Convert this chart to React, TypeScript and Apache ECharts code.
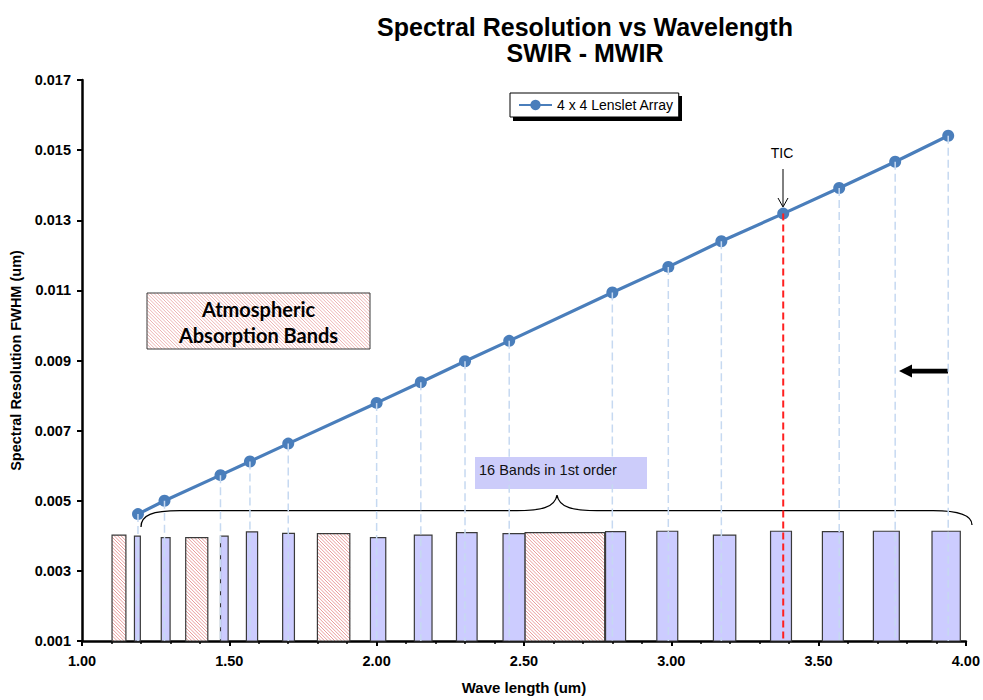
import React, { useEffect, useRef } from "react";
import * as echarts from "echarts";

// ---- data ----
const wavelengths = [1.19, 1.28, 1.47, 1.57, 1.70, 2.00, 2.15, 2.30, 2.45, 2.80, 2.99, 3.17, 3.38, 3.57, 3.76, 3.94];
const fwhm = [0.00462, 0.00500, 0.00573, 0.00612, 0.00663, 0.00779, 0.00838, 0.00898, 0.00956, 0.01094, 0.01167, 0.01240, 0.01319, 0.01392, 0.01467, 0.01541];
const ticWavelength = 3.38;

const bandStart = [1.178, 1.269, 1.470, 1.558, 1.681, 1.979, 2.128, 2.271, 2.429, 2.777, 2.951, 3.143, 3.337, 3.513, 3.686, 3.885];
const bandEnd = [1.198, 1.299, 1.496, 1.596, 1.721, 2.031, 2.188, 2.341, 2.504, 2.845, 3.022, 3.219, 3.408, 3.584, 3.774, 3.981];
const bandTop = [0.00399, 0.00395, 0.00399, 0.00411, 0.00407, 0.00395, 0.00402, 0.00409, 0.00406, 0.00412, 0.00413, 0.00402, 0.00413, 0.00412, 0.00413, 0.00413];

const absStart = [1.102, 1.352, 1.799, 2.504];
const absEnd = [1.149, 1.427, 1.909, 2.774];
const absTop = [0.00402, 0.00395, 0.00406, 0.00409];

const xMin = 1.0;
const xMax = 4.0;
const xInterval = 0.5;
const yMin = 0.001;
const yMax = 0.017;
const yInterval = 0.002;

const FONT = "'Liberation Sans', Arial, sans-serif";
const HATCH = "#e27a7a";

const braceD =
  "M 141 527 C 141 515 152 510.7 180 510.7 L 517 510.7 C 540 510.7 555 508 557 495 C 559 508 574 510.7 597 510.7 L 933 510.7 C 958 510.7 972 515 972 525";
echarts.graphic.registerShape("brace", echarts.graphic.extendPath(braceD, {}));

function hatchLines(x0: number, y0: number, x1: number, y1: number, step: number, color: string) {
  const out: any[] = [];
  const cStart = Math.ceil((x0 - y1) / step) * step;
  for (let c = cStart; c <= x1 - y0; c += step) {
    const ya = Math.max(y0, x0 - c);
    const yb = Math.min(y1, x1 - c);
    if (yb > ya) {
      out.push({
        type: "line",
        shape: { x1: ya + c, y1: ya, x2: yb + c, y2: yb },
        style: { stroke: color, lineWidth: 0.75 },
        silent: true,
      });
    }
  }
  return out;
}

export default function App() {
  const ref = useRef<HTMLDivElement>(null);

  useEffect(() => {
    document.body.style.margin = "0";
    if (!ref.current) return;
    const chart = echarts.init(ref.current, null, { renderer: "svg" });

    const bandData = bandStart.map((s, i) => [s, bandEnd[i], bandTop[i]]);
    const absData = absStart.map((s, i) => [s, absEnd[i], absTop[i]]);
    const lineData = wavelengths.map((w, i) => [w, fwhm[i]]);

    const boxX = 147, boxY = 293, boxW = 223, boxH = 56;

    const option: any = {
      animation: false,
      backgroundColor: "#fff",
      title: {
        text: "Spectral Resolution vs Wavelength\nSWIR - MWIR",
        left: 580,
        top: 9,
        textAlign: "center",
        textStyle: { fontFamily: FONT, fontSize: 25, fontWeight: "bold", color: "#000", lineHeight: 26 },
      },
      legend: {
        data: ["4 x 4 Lenslet Array"],
        left: 510,
        top: 93,
        backgroundColor: "#fff",
        borderColor: "#000",
        borderWidth: 1,
        padding: [5, 5, 5, 8],
        itemWidth: 33,
        itemHeight: 13,
        borderRadius: 0,
        textStyle: { fontFamily: FONT, fontSize: 14, color: "#000" },
      },
      grid: { left: 82, right: 15, top: 80, bottom: 57, containLabel: false },
      xAxis: {
        type: "value",
        min: xMin,
        max: xMax,
        interval: xInterval,
        name: "Wave length (um)",
        nameLocation: "middle",
        nameGap: 39,
        nameTextStyle: { fontFamily: FONT, fontSize: 15, fontWeight: "bold", color: "#000" },
        axisLine: { show: true, lineStyle: { color: "#000", width: 2.5 } },
        axisTick: { show: true, length: 5, lineStyle: { color: "#000", width: 2 } },
        minorTick: { show: true, splitNumber: 5, length: 3, lineStyle: { color: "#000", width: 1.5 } },
        splitLine: { show: false },
        axisLabel: {
          fontFamily: FONT,
          fontSize: 14.5,
          fontWeight: "bold",
          color: "#000",
          margin: 12,
          formatter: (v: number) => v.toFixed(2),
        },
      },
      yAxis: {
        type: "value",
        min: yMin,
        max: yMax,
        interval: yInterval,
        name: "Spectral Resolution FWHM (um)",
        nameLocation: "middle",
        nameGap: 58,
        nameTextStyle: { fontFamily: FONT, fontSize: 14.5, fontWeight: "bold", color: "#000" },
        axisLine: { show: true, lineStyle: { color: "#000", width: 2.5 } },
        axisTick: { show: true, length: 5, lineStyle: { color: "#000", width: 2 } },
        splitLine: { show: false },
        axisLabel: {
          fontFamily: FONT,
          fontSize: 14.5,
          fontWeight: "bold",
          color: "#000",
          margin: 11,
          formatter: (v: number) => v.toFixed(3),
        },
      },
      series: [
        {
          type: "custom",
          name: "Bands",
          z: 2,
          data: bandData,
          encode: { x: [0, 1], y: 2 },
          renderItem: (params: any, api: any) => {
            const p0 = api.coord([api.value(0), api.value(2)]);
            const p1 = api.coord([api.value(1), yMin]);
            return {
              type: "rect",
              shape: { x: p0[0], y: p0[1], width: p1[0] - p0[0], height: p1[1] - p0[1] },
              style: { fill: "#ccccff", stroke: "#3a3a3a", lineWidth: 1.2 },
            };
          },
        },
        {
          type: "custom",
          name: "Absorption",
          z: 2,
          data: absData,
          encode: { x: [0, 1], y: 2 },
          renderItem: (params: any, api: any) => {
            const p0 = api.coord([api.value(0), api.value(2)]);
            const p1 = api.coord([api.value(1), yMin]);
            const x0 = p0[0], y0 = p0[1], x1 = p1[0], y1 = p1[1];
            return {
              type: "group",
              children: [
                { type: "rect", shape: { x: x0, y: y0, width: x1 - x0, height: y1 - y0 }, style: { fill: "#fff" } },
                ...hatchLines(x0, y0, x1, y1, 3.4, HATCH),
                {
                  type: "rect",
                  shape: { x: x0, y: y0, width: x1 - x0, height: y1 - y0 },
                  style: { fill: "none", stroke: "#3a3a3a", lineWidth: 1.2 },
                },
              ],
            };
          },
        },
        {
          type: "line",
          name: "4 x 4 Lenslet Array",
          z: 3,
          data: lineData,
          symbol: "circle",
          symbolSize: 12,
          lineStyle: { color: "#4a7ebb", width: 3.2 },
          itemStyle: { color: "#4a7ebb" },
        },
        {
          type: "custom",
          name: "Drop lines",
          z: 4,
          data: lineData,
          encode: { x: 0, y: 1 },
          renderItem: (params: any, api: any) => {
            const x = api.value(0);
            const p0 = api.coord([x, api.value(1)]);
            const p1 = api.coord([x, yMin]);
            const isTic = Math.abs(x - ticWavelength) < 1e-9;
            return {
              type: "line",
              shape: { x1: p0[0], y1: p0[1], x2: p1[0], y2: p1[1] },
              style: isTic
                ? { stroke: "#ff2020", lineWidth: 2, lineDash: [7, 4] }
                : { stroke: "#c6d9f1", lineWidth: 1.5, lineDash: [8, 4] },
            };
          },
        },
      ],
      graphic: [
        // legend shadow
        { type: "rect", z: 0, shape: { x: 513, y: 96, width: 169, height: 25 }, style: { fill: "#000" } },
        // atmospheric absorption box
        {
          type: "group",
          children: [
            { type: "rect", shape: { x: boxX, y: boxY, width: boxW, height: boxH }, style: { fill: "#fff" } },
            ...hatchLines(boxX, boxY, boxX + boxW, boxY + boxH, 3.4, "#e79a9a"),
            {
              type: "rect",
              shape: { x: boxX, y: boxY, width: boxW, height: boxH },
              style: { fill: "none", stroke: "#3a3a3a", lineWidth: 1 },
            },
            {
              type: "text",
              x: boxX + boxW / 2,
              y: boxY + boxH / 2 + 1,
              style: {
                text: "Atmospheric\nAbsorption Bands",
                fill: "#000",
                font: "bold 20px Lato, 'Open Sans', sans-serif",
                lineHeight: 26,
                textAlign: "center",
                textVerticalAlign: "middle",
              },
            },
          ],
        },
        // 16 bands label box
        { type: "rect", shape: { x: 475, y: 457, width: 172, height: 32 }, style: { fill: "#ccccfa" } },
        {
          type: "text",
          x: 479,
          y: 470,
          style: {
            text: "16 Bands in 1st order",
            fill: "#111",
            font: `14.5px ${FONT}`,
            textAlign: "left",
            textVerticalAlign: "middle",
          },
        },
        // brace
        { type: "brace", x: 0, y: 0, style: { stroke: "#000", fill: "none", lineWidth: 1.3 } },
        // TIC label and arrow
        {
          type: "text",
          x: 782,
          y: 153,
          style: { text: "TIC", fill: "#000", font: `14px ${FONT}`, textAlign: "center", textVerticalAlign: "middle" },
        },
        { type: "line", shape: { x1: 783, y1: 169, x2: 783, y2: 206 }, style: { stroke: "#000", lineWidth: 1 } },
        {
          type: "polyline",
          shape: { points: [[778, 198], [783, 207], [788, 198]] },
          style: { stroke: "#000", lineWidth: 1, fill: "none" },
        },
        // black arrow
        {
          type: "polygon",
          shape: {
            points: [
              [899, 371],
              [912, 364.5],
              [912, 368.8],
              [948, 368.8],
              [948, 373.4],
              [912, 373.4],
              [912, 377.5],
            ],
          },
          style: { fill: "#000" },
        },
      ],
    };

    chart.setOption(option);
    return () => {
      chart.dispose();
    };
  }, []);

  return <div ref={ref} style={{ width: 983, height: 700 }} />;
}
